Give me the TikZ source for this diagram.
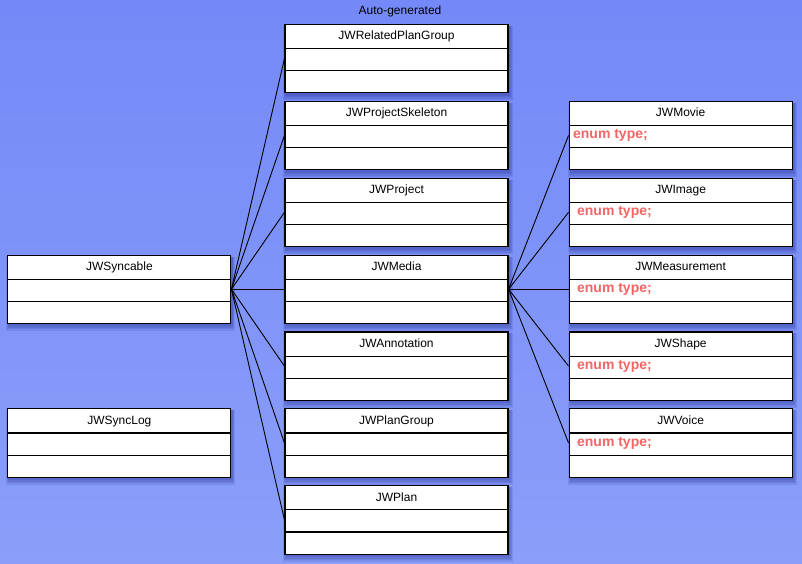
\documentclass[tikz,border=0pt]{standalone}
\usepackage{fontspec}
\setmainfont{Liberation Sans}
\usetikzlibrary{positioning,shapes.multipart,calc}

\definecolor{bgtop}{RGB}{116,137,247}
\definecolor{bgbottom}{RGB}{138,159,249}
\definecolor{bgshadow}{RGB}{30,40,140}
\definecolor{enumred}{RGB}{242,102,102}

\newcommand{\headstrut}{\rule[-8pt]{0pt}{23pt}}
\newcommand{\rowstrut}{\rule[-8.5pt]{0pt}{21pt}}
\newcommand{\enumtype}{{\fontsize{14}{16}\selectfont\bfseries\color{enumred}enum type;}}

\pgfdeclarelayer{backdrop}
\pgfdeclarelayer{shadow}
\pgfsetlayers{backdrop,shadow,main}

\begin{document}
\begin{tikzpicture}[x=1pt,y=-1pt]

% definitions
\tikzstyle{classbox} = [rectangle split, rectangle split parts=3, rectangle split part align={center,left,left}, minimum width=223pt, inner xsep=4pt, inner ysep=0pt, draw=black, line width=1.1pt, fill=white, font=\fontsize{12}{14}\selectfont]

\tikzstyle{shadowfill} = [fill=bgshadow, opacity=0.13]

\tikzstyle{link} = [line width=0.9pt, draw=black]

% background
\useasboundingbox (0,0) rectangle (802,563);
\begin{pgfonlayer}{backdrop}
\shade [top color=bgtop, bottom color=bgbottom] (0,0) rectangle (802,563);
\end{pgfonlayer}

\node (title) [inner sep=0pt, font=\fontsize{12}{14}\selectfont] at (400,11) {Auto-generated};

% middle column
\node (m0) [classbox] at (396.5,58.5) {\headstrut JWRelatedPlanGroup \nodepart{second}\rowstrut \nodepart{third}\rowstrut};

\node (m1) [classbox, below=7.5pt of m0] {\headstrut JWProjectSkeleton \nodepart{second}\rowstrut \nodepart{third}\rowstrut};

\node (m2) [classbox, below=7.5pt of m1] {\headstrut JWProject \nodepart{second}\rowstrut \nodepart{third}\rowstrut};

\node (m3) [classbox, below=7.5pt of m2] {\headstrut JWMedia \nodepart{second}\rowstrut \nodepart{third}\rowstrut};

\node (m4) [classbox, below=7.5pt of m3] {\headstrut JWAnnotation \nodepart{second}\rowstrut \nodepart{third}\rowstrut};

\node (m5) [classbox, below=7.5pt of m4] {\headstrut JWPlanGroup \nodepart{second}\rowstrut \nodepart{third}\rowstrut};

\node (m6) [classbox, below=7.5pt of m5] {\headstrut JWPlan \nodepart{second}\rowstrut \nodepart{third}\rowstrut};

% left column
\node (syncable) [classbox, left=53pt of m3] {\headstrut JWSyncable \nodepart{second}\rowstrut \nodepart{third}\rowstrut};

\node (synclog) [classbox, left=53pt of m5] {\headstrut JWSyncLog \nodepart{second}\rowstrut \nodepart{third}\rowstrut};

% right column
\node (r0) [classbox, right=60pt of m1] {\headstrut JWMovie \nodepart{second}\rowstrut\enumtype \nodepart{third}\rowstrut};

\node (r1) [classbox, below=7.5pt of r0] {\headstrut JWImage \nodepart{second}\rowstrut\hspace*{4pt}\enumtype \nodepart{third}\rowstrut};

\node (r2) [classbox, below=7.5pt of r1] {\headstrut JWMeasurement \nodepart{second}\rowstrut\hspace*{4pt}\enumtype \nodepart{third}\rowstrut};

\node (r3) [classbox, below=7.5pt of r2] {\headstrut JWShape \nodepart{second}\rowstrut\hspace*{4pt}\enumtype \nodepart{third}\rowstrut};

\node (r4) [classbox, below=7.5pt of r3] {\headstrut JWVoice \nodepart{second}\rowstrut\hspace*{4pt}\enumtype \nodepart{third}\rowstrut};

% soft shadows under the boxes
\begin{pgfonlayer}{shadow}
\foreach \b in {m0,m1,m2,m3,m4,m5,m6,syncable,synclog,r0,r1,r2,r3,r4} {
  \fill [shadowfill] ($(\b.north west)+(-1,2)$) rectangle ($(\b.south east)+(4,7)$);
  \fill [shadowfill] ($(\b.north west)+(0,2)$) rectangle ($(\b.south east)+(3,5.5)$);
  \fill [shadowfill] ($(\b.north west)+(1,2)$) rectangle ($(\b.south east)+(2,4)$);
  \fill [shadowfill] ($(\b.north west)+(1,2)$) rectangle ($(\b.south east)+(1.5,2.5)$);
}
\end{pgfonlayer}

% connectors
\draw [link] (syncable.east) -- (m0.west);
\draw [link] (syncable.east) -- (m1.west);
\draw [link] (syncable.east) -- (m2.west);
\draw [link] (syncable.east) -- (m3.west);
\draw [link] (syncable.east) -- (m4.west);
\draw [link] (syncable.east) -- (m5.west);
\draw [link] (syncable.east) -- (m6.west);

\draw [link] (m3.east) -- (r0.west);
\draw [link] (m3.east) -- (r1.west);
\draw [link] (m3.east) -- (r2.west);
\draw [link] (m3.east) -- (r3.west);
\draw [link] (m3.east) -- (r4.west);

\end{tikzpicture}
\end{document}
